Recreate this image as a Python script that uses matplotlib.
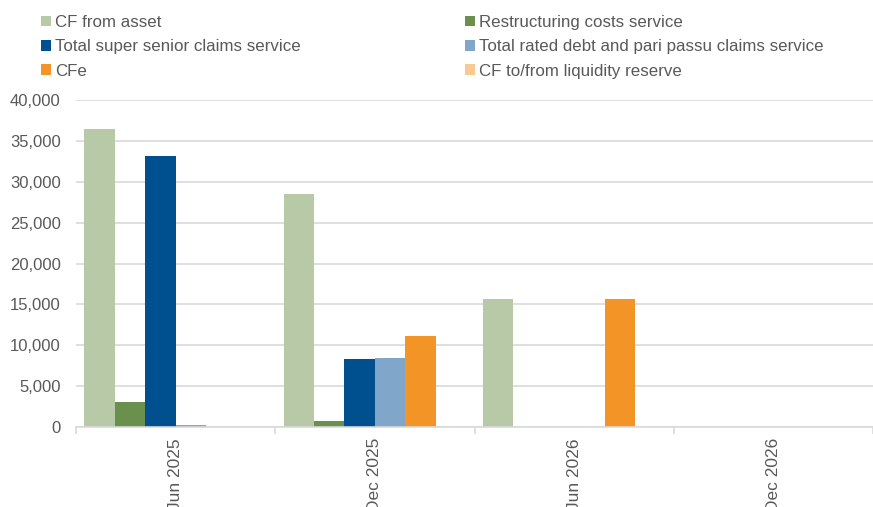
import matplotlib.pyplot as plt
import numpy as np

plt.rcParams['font.family'] = ['Liberation Sans', 'DejaVu Sans']

# periods on the x axis
periods = ["Jun 2025", "Dec 2025", "Jun 2026", "Dec 2026"]

# series values
cf_asset = [36400, 28550, 15700, 0]
restructuring = [3000, 700, 0, 0]
super_senior = [33100, 8300, 0, 0]
rated_debt = [250, 8400, 0, 0]
cfe = [0, 11100, 15650, 0]
liquidity = [0, 0, 0, 0]

series_names = ["CF from asset", "Restructuring costs service",
                "Total super senior claims service",
                "Total rated debt and pari passu claims service",
                "CFe", "CF to/from liquidity reserve"]
series_vals = [cf_asset, restructuring, super_senior, rated_debt, cfe, liquidity]
colors = ["#b8c9a7", "#6b8f4c", "#004f8f", "#80a7c9", "#f39426", "#fac98f"]

fig = plt.figure(figsize=(8.73, 5.07), dpi=100)
ax = fig.add_axes([76 / 873, 1 - 427 / 507, 1 - 76 / 873, (427 - 100) / 507])

x = np.arange(len(periods))
w = 0.1525
handles = []
for i, (name, vals, c) in enumerate(zip(series_names, series_vals, colors)):
    b = ax.bar(x - 2.5 * w + i * w, vals, width=w, color=c, label=name, zorder=3)
    handles.append(b)

ax.set_xlim(-0.5, len(periods) - 0.5)
ax.set_ylim(0, 40000)
ax.set_yticks(np.arange(0, 40001, 5000))
ax.yaxis.set_major_formatter(plt.FuncFormatter(lambda v, p: f"{int(v):,}"))
ax.grid(axis='y', color="#d9d9d9", linewidth=1.2, zorder=0)

ax.set_xticks(x)
ax.set_xticklabels(periods, rotation=90, va='top')
ax.set_xticks(np.arange(-0.5, len(periods) - 0.4, 1), minor=True)
ax.tick_params(axis='x', which='major', length=0, pad=8, labelsize=12.5, labelcolor="#595959")
ax.tick_params(axis='x', which='minor', length=5, color="#d9d9d9", width=1.2)
ax.tick_params(axis='y', length=0, pad=11, labelsize=12, labelcolor="#595959")

for s in ["top", "right", "left"]:
    ax.spines[s].set_visible(False)
ax.spines["bottom"].set_color("#d9d9d9")
ax.spines["bottom"].set_linewidth(1.2)
ax.spines["bottom"].set_zorder(4)

# legend: two columns, filled row by row
order = [0, 2, 4, 1, 3, 5]
leg = fig.legend([handles[i] for i in order], [series_names[i] for i in order],
                 ncol=2, loc='upper left', bbox_to_anchor=(41 / 873, 1 - 15 / 507),
                 frameon=False, fontsize=12.2, handlelength=0.6, handleheight=0.6,
                 handletextpad=0.25, columnspacing=9.65, labelspacing=0.55,
                 borderaxespad=0, borderpad=0)
for t in leg.get_texts():
    t.set_color("#595959")

fig.savefig("out.png", dpi=100)
